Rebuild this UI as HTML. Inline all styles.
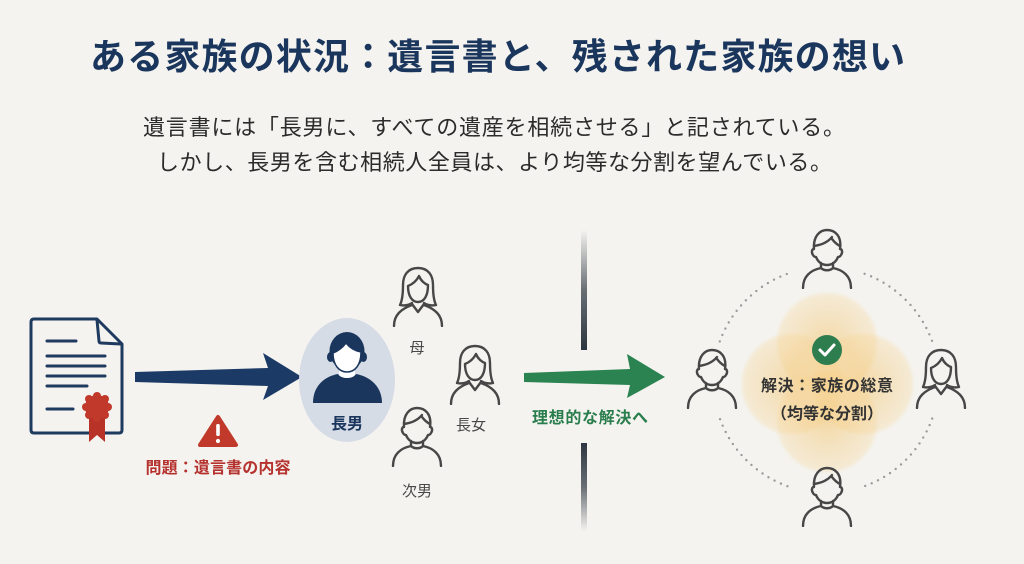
<!DOCTYPE html>
<html><head><meta charset="utf-8"><style>
html,body{margin:0;padding:0;background:#f4f3ef;}
svg{display:block;}
text{font-family:"Liberation Sans","Noto Sans CJK JP",sans-serif;}
</style></head><body>
<svg width="1024" height="564" viewBox="0 0 1024 564" xmlns="http://www.w3.org/2000/svg">
<defs>
<symbol id="m" viewBox="0 0 54 62">
<g fill="none" stroke="#474747" stroke-width="2.4" stroke-linecap="round" stroke-linejoin="round">
<path d="M14,22 C13,9 20,3 27,3 C35,3 42,9 40,22 C42,22 43,25 41,28 C40,30 39,30 38,30 C36,35 32,38 27,38 C22,38 18,35 16,30 C15,30 14,30 13,28 C11,25 12,22 14,22 Z"/>
<path d="M14,19 C21,18 28,15 32,10 M32,12 C35,16 38,18 40,19"/>
<path d="M21,36 L21,41 C24,44 30,44 33,41 L33,36"/>
<path d="M3,61 C3,49 11,43 21,41 M33,41 C43,43 51,49 51,61"/>
</g></symbol>
<symbol id="f" viewBox="0 0 54 62">
<g fill="none" stroke="#474747" stroke-width="2.4" stroke-linecap="round" stroke-linejoin="round">
<path d="M21,38 C18,40 14,41 9,40 C11,36 12,30 12,20 C12,10 17,3 27,3 C37,3 42,10 42,20 C42,30 43,36 45,40 C40,41 36,40 33,38"/>
<path d="M17,21 C22,19 26,15 28,11 C30,16 34,19 37,20 C37,31 33,37 27,37 C21,37 17,31 17,21 Z"/>
<path d="M21,39 L27,47 L33,39"/>
<path d="M3,61 C3,50 10,44 21,40 M33,40 C44,44 51,50 51,61"/>
</g></symbol>
<linearGradient id="dv1" x1="0" y1="0" x2="0" y2="1">
<stop offset="0" stop-color="#2d3540" stop-opacity="0"/>
<stop offset="0.5" stop-color="#2d3540" stop-opacity="0.7"/>
<stop offset="1" stop-color="#2d3540" stop-opacity="1"/>
</linearGradient>
<linearGradient id="dv2" x1="0" y1="0" x2="0" y2="1">
<stop offset="0" stop-color="#2d3540" stop-opacity="1"/>
<stop offset="0.5" stop-color="#2d3540" stop-opacity="0.7"/>
<stop offset="1" stop-color="#2d3540" stop-opacity="0"/>
</linearGradient>
<radialGradient id="og">
<stop offset="0" stop-color="#f4b94f" stop-opacity="0.45"/>
<stop offset="1" stop-color="#f7cf85" stop-opacity="0.25"/>
</radialGradient>
<filter id="bl" x="-20%" y="-20%" width="140%" height="140%"><feGaussianBlur stdDeviation="1.5"/></filter>
</defs>

<!-- Title -->
<text x="90" y="69" font-size="36" font-weight="700" fill="#1b365d" textLength="815" lengthAdjust="spacing">ある家族の状況：遺言書と、残された家族の想い</text>
<!-- Subtitle -->
<text x="143" y="135" font-size="22" fill="#2b2b2b" textLength="702" lengthAdjust="spacing">遺言書には「長男に、すべての遺産を相続させる」と記されている。</text>
<text x="157" y="170" font-size="22" fill="#2b2b2b" textLength="675" lengthAdjust="spacing">しかし、長男を含む相続人全員は、より均等な分割を望んでいる。</text>

<!-- Document icon -->
<g fill="none" stroke="#1f3a5f" stroke-width="3" stroke-linejoin="round" stroke-linecap="round">
<path d="M34,319 L97,319 L122,344 L122,430 Q122,433 119,433 L34,433 Q31,433 31,430 L31,322 Q31,319 34,319 Z"/>
<path d="M97,320 L99,341 Q99,343 101,343 L121,344"/>
<path d="M47,341 L76,341 M47,356 L105,356 M47,366 L105,366 M47,376 L105,376 M47,386 L87,386 M47,409 L73,409"/>
</g>
<path d="M89,414 L89,442 L97,435 L105,442 L105,414 Z" fill="#b83227"/>
<g fill="#c0392b">
<circle cx="97" cy="407" r="12"/>
<circle cx="97" cy="396" r="4"/><circle cx="105" cy="399" r="4"/><circle cx="108" cy="407" r="4"/><circle cx="105" cy="415" r="4"/>
<circle cx="97" cy="418" r="4"/><circle cx="89" cy="415" r="4"/><circle cx="86" cy="407" r="4"/><circle cx="89" cy="399" r="4"/>
</g>

<!-- Navy arrow -->
<polygon points="135,372 268,368 263,353 302,377 263,400 268,386 135,382" fill="#1b3a66"/>

<!-- Warning -->
<path d="M218,417 L236,445 L200,445 Z" fill="#c0392b" stroke="#c0392b" stroke-width="4" stroke-linejoin="round"/>
<rect x="216.2" y="424" width="3.6" height="12" rx="1.5" fill="#fff"/>
<circle cx="218" cy="441" r="2.1" fill="#fff"/>
<text x="218" y="473" font-size="16" font-weight="700" fill="#b5322e" text-anchor="middle" textLength="145" lengthAdjust="spacing">問題：遺言書の内容</text>

<!-- 長男 -->
<ellipse cx="347" cy="380" rx="48" ry="62" fill="#d6dce6"/>
<path d="M313,403 C313,388 322,377 338,374 C341,379 353,379 356,374 C372,377 382,388 382,403 Z" fill="#1b365d"/>
<path d="M339,366 L339,375 C342,379 352,379 355,375 L355,366 Z" fill="#fff"/>
<ellipse cx="347" cy="351" rx="17.5" ry="19" fill="#1b365d"/>
<ellipse cx="330.5" cy="357" rx="3.5" ry="5" fill="#1b365d"/>
<ellipse cx="363.5" cy="357" rx="3.5" ry="5" fill="#1b365d"/>
<path d="M333,353 C338,351 343,347 346,343 C350,348 355,351 361,352 C361,365 355,372 347,372 C339,372 333,365 333,353 Z" fill="#fff" stroke="#1b365d" stroke-width="1.5"/>
<text x="347" y="429" font-size="16" font-weight="700" fill="#1b365d" text-anchor="middle">長男</text>

<!-- family -->
<use href="#f" x="391" y="265" width="54" height="62"/>
<text x="417" y="353" font-size="15" fill="#474747" text-anchor="middle">母</text>
<use href="#f" x="448" y="343" width="54" height="62"/>
<text x="471" y="430" font-size="15" fill="#474747" text-anchor="middle">長女</text>
<use href="#m" x="390" y="405" width="54" height="62"/>
<text x="417" y="496" font-size="15" fill="#474747" text-anchor="middle">次男</text>

<!-- divider -->
<rect x="581" y="230" width="6" height="120" fill="url(#dv1)"/>
<rect x="581" y="443" width="6" height="88" fill="url(#dv2)"/>

<!-- Green arrow -->
<polygon points="524,373 630,369 627,354 665,377 627,398 630,385 524,382" fill="#2a8350"/>
<text x="590" y="423" font-size="16" font-weight="700" fill="#2a7d4c" text-anchor="middle" textLength="116" lengthAdjust="spacing">理想的な解決へ</text>

<!-- dotted circle -->
<g fill="none" stroke="#9a9a9a" stroke-width="2.4" stroke-linecap="round" stroke-dasharray="0 7">
<path d="M932.2,418.6 A113,113 0 0 1 864.6,486.2"/>
<path d="M787.4,486.2 A113,113 0 0 1 719.8,418.6"/>
<path d="M719.8,341.4 A113,113 0 0 1 787.4,273.8"/>
<path d="M864.6,273.8 A113,113 0 0 1 932.2,341.4"/>
</g>

<!-- orange glow -->
<g filter="url(#bl)">
<circle cx="827" cy="343" r="50" fill="url(#og)"/>
<circle cx="792" cy="384" r="50" fill="url(#og)"/>
<circle cx="863" cy="384" r="50" fill="url(#og)"/>
<circle cx="827" cy="422" r="50" fill="url(#og)"/>
</g>

<circle cx="827" cy="350" r="15" fill="#2e7d4f"/>
<path d="M820,350 L825,355 L834,345" fill="none" stroke="#fff" stroke-width="3" stroke-linecap="round" stroke-linejoin="round"/>
<text x="827" y="391" font-size="16" font-weight="700" fill="#333" text-anchor="middle" textLength="132" lengthAdjust="spacing">解決：家族の総意</text>
<text x="827" y="419" font-size="16" font-weight="700" fill="#333" text-anchor="middle">（均等な分割）</text>

<!-- circle people -->
<use href="#m" x="800" y="227" width="54" height="62"/>
<use href="#m" x="685" y="347" width="54" height="62"/>
<use href="#f" x="914" y="347" width="54" height="62"/>
<use href="#m" x="800" y="465" width="54" height="62"/>
</svg>
</body></html>
